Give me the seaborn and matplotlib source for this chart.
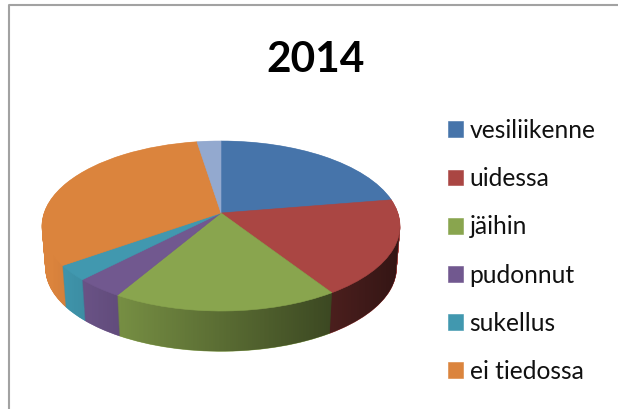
import numpy as np
import matplotlib
matplotlib.use("Agg")
import matplotlib.pyplot as plt
import matplotlib.transforms as mtransforms
from matplotlib.patches import Polygon
import seaborn as sns

title = "2014"
labels = ["vesiliikenne", "uidessa", "jäihin", "pudonnut", "sukellus", "ei tiedossa"]
# last slice has no entry in the legend of the original
values = [22.4, 18.4, 17.7, 3.8, 2.9, 32.3, 2.5]
colors = ["#4674AA", "#AA4643", "#89A54E", "#71588F", "#4198AF", "#DB843D", "#93A9CF"]

# pie placement in pixels
CX, CY = 221, 226
RX, RY = 179, 85
TILT = 0.153  # moves the apex up from the ellipse centre, like the perspective
DEPTH = 40
SHRINK = 0.02  # bottom rim is a bit smaller than the top one
SLIDE = 1.05  # wall centre moves a little more than the rim depth


class PieView(mtransforms.Transform):
    # unit circle -> tilted disc on the page, drop pixels further down the wall
    input_dims = 2
    output_dims = 2

    def __init__(self, drop=0):
        super().__init__()
        self.drop = drop

    def transform_non_affine(self, values):
        x, y = np.asarray(values).T
        w = 1 + TILT * y
        s = 1 - SHRINK * self.drop / DEPTH
        px = CX + s * RX * np.sqrt(1 - TILT ** 2) * x / w
        py = CY + SLIDE * self.drop - s * RY * (y + TILT) / w
        return np.column_stack([px, py])


def drawLayer(ax, drop, zorder):
    wedges, _ = ax.pie(
        values,
        colors=sns.color_palette(colors),
        startangle=90,
        counterclock=False,
        wedgeprops={"linewidth": 0.4, "zorder": zorder},
    )
    for w in wedges:
        w.set_edgecolor(w.get_facecolor())
        w.set_transform(PieView(drop) + ax.transData)
    return wedges


def main():
    sns.set_theme(style="white")
    plt.rcParams["font.family"] = ["Lato", "DejaVu Sans"]

    fig = plt.figure(figsize=(6.18, 4.09), dpi=100)
    ax = fig.add_axes([0, 0, 1, 1])

    # side wall, stacked from the bottom up
    for drop in np.arange(DEPTH, 0, -0.5):
        drawLayer(ax, drop, 1)

    # wall gets darker to the right
    ramp = np.zeros((2, 256, 4))
    ramp[:, :, 3] = np.linspace(0, 0.72, 256)
    shade = ax.imshow(ramp, extent=(50, 410, CY + 60 + RY, CY), aspect="auto", zorder=2)
    th = np.linspace(np.pi, 2 * np.pi, 200)
    s = 1 - SHRINK
    outline = np.column_stack([CX + s * RX * np.cos(th), CY + SLIDE * DEPTH - s * RY * np.sin(th)])
    outline = np.vstack([[CX - RX, CY], outline, [CX + RX, CY]])
    clip = Polygon(outline, closed=True, transform=ax.transData, fill=False, linewidth=0)
    ax.add_patch(clip)
    shade.set_clip_path(clip)

    top = drawLayer(ax, 0, 3)

    ax.set_aspect("auto")
    ax.set_xlim(0, 618)
    ax.set_ylim(409, 0)
    ax.axis("off")

    # chart area border, only top and left are in the crop
    ax.plot([8.5, 8.5, 618], [409, 5, 5], color="#A2A2A2", linewidth=1.5, zorder=4)

    ax.text(316, 60, title, fontsize=30.5, fontweight="bold", color="black", ha="center", va="center")

    ax.legend(
        top[:6],
        labels,
        loc="upper left",
        bbox_to_anchor=(448 / 618, 1 - 119 / 409),
        frameon=False,
        fontsize=17.7,
        labelcolor="#111111",
        handlelength=0.61,
        handleheight=0.61,
        handletextpad=0.27,
        labelspacing=1.025,
        borderpad=0,
        borderaxespad=0,
    )

    fig.savefig("out.png", dpi=100)


if __name__ == "__main__":
    main()
